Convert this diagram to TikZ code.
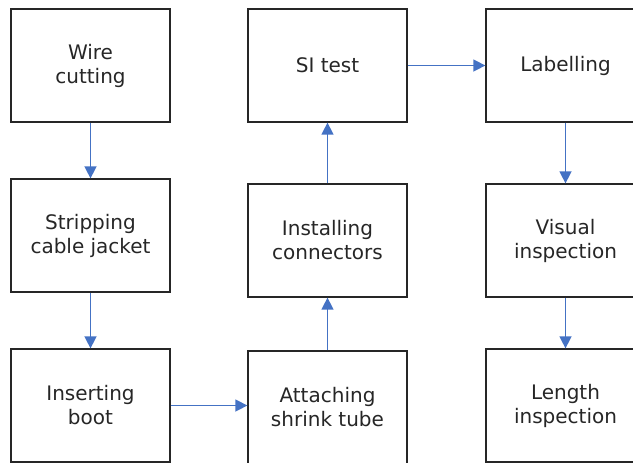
\documentclass[tikz,border=0pt]{standalone}
\usepackage{fontspec}
\setmainfont{DejaVu Sans}
\usetikzlibrary{arrows.meta}
\definecolor{flowblue}{HTML}{4472C4}
\definecolor{boxline}{HTML}{262626}
\tikzset{stepbox/.style={draw=boxline, line width=1.2pt, minimum width=119pt, minimum height=84.5pt, align=center, inner sep=0pt, text=boxline, font=\fontsize{15}{18}\selectfont},
  flow/.style={flowblue, line width=1.1pt, -{Triangle[length=9pt,width=9pt]}}}

\begin{document}
\begin{tikzpicture}[x=0.75pt,y=-0.75pt]
  \useasboundingbox (0,0) rectangle (633,462);
  \clip (0,0) rectangle (633,462);
  \node[stepbox] (cut)     at ( 90.5, 65.5) {Wire\\cutting};
  \node[stepbox] (strip)   at ( 90.5,235.5) {Stripping\\cable jacket};
  \node[stepbox] (boot)    at ( 90.5,405.5) {Inserting\\boot};
  \node[stepbox] (shrink)  at (327.5,407.5) {Attaching\\shrink tube};
  \node[stepbox] (conn)    at (327.5,240.5) {Installing\\connectors};
  \node[stepbox] (si)      at (327.5, 65.5) {SI test};
  \node[stepbox] (label)   at (565.5, 65.5) {Labelling};
  \node[stepbox] (visual)  at (565.5,240.5) {Visual\\inspection};
  \node[stepbox] (length)  at (565.5,405.5) {Length\\inspection};
  \draw[flow] (cut) -- (strip);
  \draw[flow] (strip) -- (boot);
  \draw[flow] (boot.east) -- (shrink.west |- boot.east);
  \draw[flow] (shrink) -- (conn);
  \draw[flow] (conn) -- (si);
  \draw[flow] (si) -- (label);
  \draw[flow] (label) -- (visual);
  \draw[flow] (visual) -- (length);
\end{tikzpicture}
\end{document}
